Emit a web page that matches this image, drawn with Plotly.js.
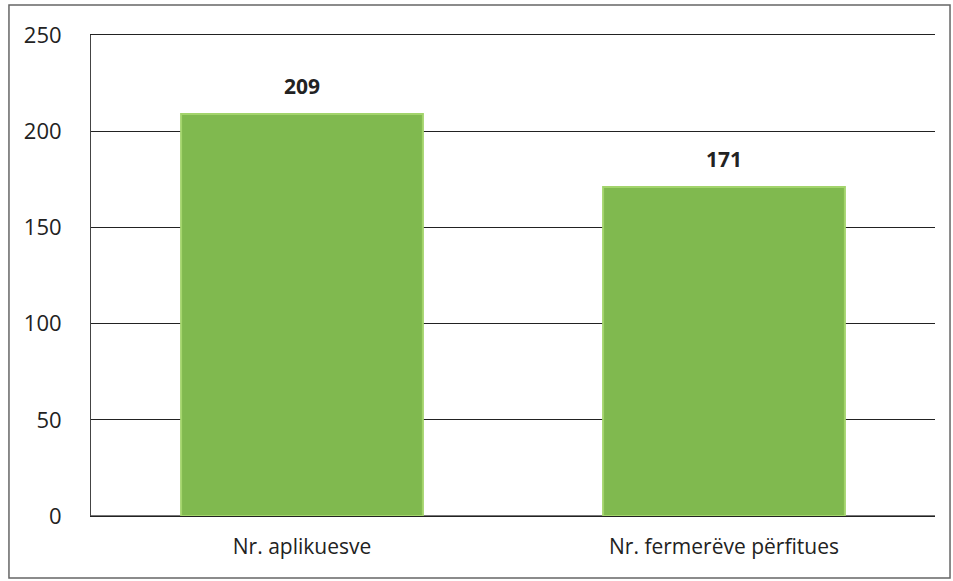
<!DOCTYPE html>
<html><head><meta charset="utf-8">
<script src="https://cdn.plot.ly/plotly-3.0.1.min.js"></script>
<style>html,body{margin:0;padding:0;background:#fff}#c{width:953px;height:581px}</style>
</head><body><div id="c"></div>
<script>
const categories = ["Nr. aplikuesve", "Nr. fermerëve përfitues"];
const values = [209, 171];
const yTicks = [0, 50, 100, 150, 200, 250];

const trace = {
  type: "bar",
  x: categories,
  y: values,
  marker: {color: "#80b94f", line: {color: "#a3d46c", width: 2}},
  hoverinfo: "skip"
};

const annotations = categories.map((c, i) => ({
  x: c, y: values[i], xref: "x", yref: "y",
  text: "<b>" + values[i] + "</b>", showarrow: false,
  yanchor: "bottom", yshift: 12,
  font: {family: "Open Sans, Liberation Sans, sans-serif", size: 21, color: "#222"}
}));

const layout = {
  width: 953, height: 581,
  margin: {l: 91, r: 18, t: 35, b: 65},
  paper_bgcolor: "#fff", plot_bgcolor: "#fff",
  bargap: 0.427,
  showlegend: false,
  font: {family: "Open Sans, Liberation Sans, sans-serif", color: "#222"},
  annotations: annotations,
  xaxis: {
    showgrid: false, zeroline: false, showline: true, mirror: true,
    linecolor: "#222", linewidth: 1, ticks: "",
    tickfont: {size: 21, color: "#222"}, ticklabelstandoff: 12
  },
  yaxis: {
    range: [0, 250], tickvals: yTicks, ticktext: yTicks.map(String),
    showgrid: true, gridcolor: "#222", gridwidth: 1,
    zeroline: true, zerolinecolor: "#777", zerolinewidth: 2,
    showline: true, linecolor: "#444", linewidth: 1,
    ticks: "", tickfont: {size: 22, color: "#222"}, ticklabelstandoff: 24
  },
  shapes: [{
    type: "rect", xref: "paper", yref: "paper",
    x0: -0.0972, x1: 1.0178, y0: -0.129, y1: 1.0624,
    line: {color: "#666", width: 1.5}, fillcolor: "rgba(0,0,0,0)", layer: "below"
  }]
};

Plotly.newPlot("c", [trace], layout, {displayModeBar: false, staticPlot: true});
</script></body></html>
